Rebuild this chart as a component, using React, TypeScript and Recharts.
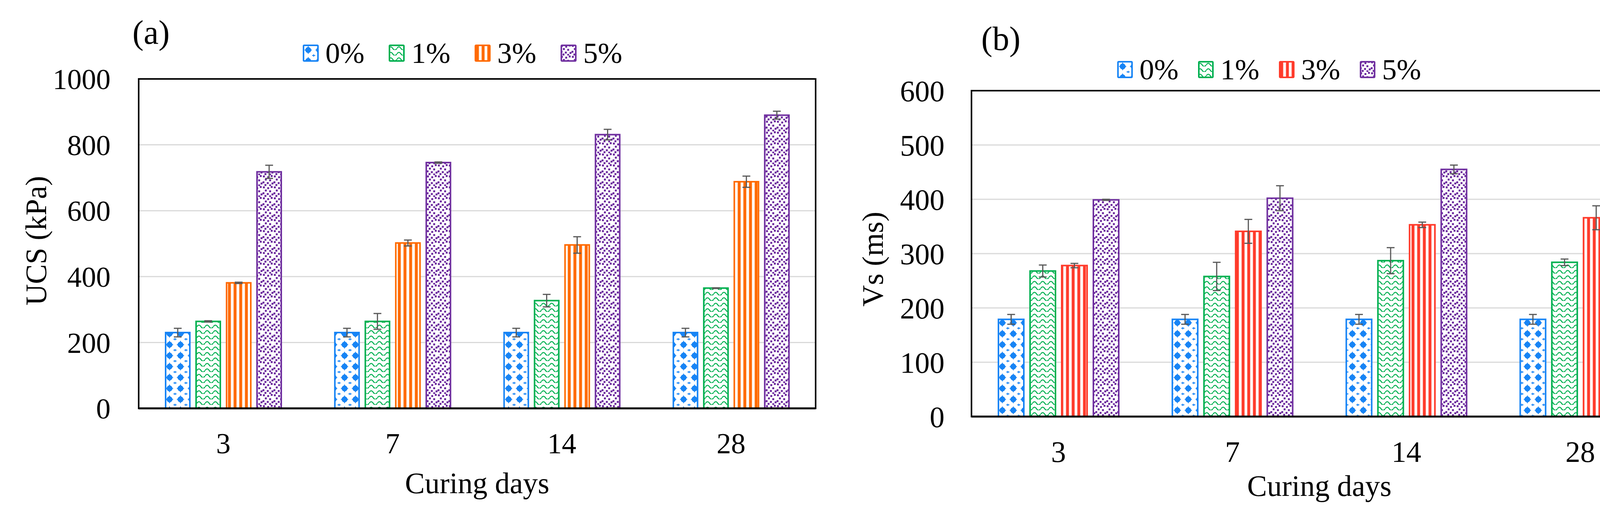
import React from "react";
import { BarChart, Bar, XAxis, YAxis, CartesianGrid, ErrorBar, ReferenceArea } from "recharts";

// Curing days (categories) and fibre contents (series)
const days = ["3", "7", "14", "28"];
const levels = ["0%", "1%", "3%", "5%"];

// (a) UCS in kPa
const ucs0 = [230, 230, 230, 230];
const ucs1 = [264, 264, 327, 365];
const ucs3 = [381, 502, 496, 688];
const ucs5 = [718, 746, 831, 890];
const ucsErr0 = [13, 13, 13, 13];
const ucsErr1 = [2, 24, 19, 1];
const ucsErr3 = [2, 9, 25, 17];
const ucsErr5 = [20, 2, 16, 12];
const ucsTicks = [0, 200, 400, 600, 800, 1000];

// (b) Vs in ms
const vs0 = [179, 179, 179, 179];
const vs1 = [268, 258, 287, 284];
const vs3 = [278, 341, 353, 366];
const vs5 = [399, 402, 455, 493];
const vsErr0 = [9, 9, 9, 9];
const vsErr1 = [11, 26, 24, 6];
const vsErr3 = [4, 22, 5, 22];
const vsErr5 = [1, 23, 8, 10];
const vsTicks = [0, 100, 200, 300, 400, 500, 600];

const FONT = '"Liberation Serif", "Times New Roman", serif';
const BLUE = "#1784F5";
const GREEN = "#00B050";
const ORANGE = "#FF6A00";
const RED = "#FF3B2B";
const PURPLE = "#7030A0";
const ERR = "#595959";

const buildRows = (vals: number[][], errs: number[][]) =>
  days.map((day, i) => ({
    day,
    v0: vals[0][i],
    v1: vals[1][i],
    v2: vals[2][i],
    v3: vals[3][i],
    e0: errs[0][i],
    e1: errs[1][i],
    e2: errs[2][i],
    e3: errs[3][i],
  }));

const rowsA = buildRows([ucs0, ucs1, ucs3, ucs5], [ucsErr0, ucsErr1, ucsErr3, ucsErr5]);
const rowsB = buildRows([vs0, vs1, vs3, vs5], [vsErr0, vsErr1, vsErr3, vsErr5]);

// hatch patterns, shared by the bars and the legend swatches
const Patterns = () => (
  <svg width={0} height={0} style={{ position: "absolute" }}>
    <defs>
      <pattern id="p-dia" width="28" height="28" patternUnits="userSpaceOnUse">
        <rect width="28" height="28" fill="#fff" />
        <path d="M14 3 Q16 10 24 14 Q16 18 14 25 Q12 18 4 14 Q12 10 14 3 Z" fill={BLUE} />
        <circle cx="14" cy="14" r="7.5" fill={BLUE} />
        <path d="M0 0 H4 M24 0 H28 M0 28 H4 M24 28 H28 M0 0 V3 M28 0 V3 M0 25 V28 M28 25 V28" stroke={BLUE} strokeWidth="2" />
      </pattern>
      <pattern id="p-wave" width="21" height="14" patternUnits="userSpaceOnUse">
        <rect width="21" height="14" fill="#fff" />
        <path d="M0 10 Q5.25 2 10.5 10 T21 10" stroke={GREEN} strokeWidth="2.5" fill="none" />
      </pattern>
      <pattern id="p-stripe-o" width="14.5" height="10" patternUnits="userSpaceOnUse">
        <rect width="14.5" height="10" fill="#fff" />
        <rect x="3.5" width="7.5" height="10" fill={ORANGE} />
      </pattern>
      <pattern id="p-stripe-r" width="14.5" height="10" patternUnits="userSpaceOnUse">
        <rect width="14.5" height="10" fill="#fff" />
        <rect x="3.5" width="7.5" height="10" fill={RED} />
      </pattern>
      <pattern id="p-dots" width="28" height="28" patternUnits="userSpaceOnUse">
        <rect width="28" height="28" fill="#fff" />
        <g fill={PURPLE}>
          <rect x="1" y="1" width="5" height="5" />
          <rect x="12" y="3" width="5" height="5" />
          <rect x="21" y="0" width="5" height="5" />
          <rect x="6" y="9" width="5" height="5" />
          <rect x="17" y="11" width="5" height="5" />
          <rect x="0" y="16" width="5" height="5" />
          <rect x="11" y="18" width="5" height="5" />
          <rect x="23" y="19" width="5" height="5" />
          <rect x="5" y="23" width="5" height="5" />
          <rect x="17" y="24" width="5" height="5" />
        </g>
      </pattern>
    </defs>
  </svg>
);

type PanelProps = {
  rows: typeof rowsA;
  left: number;
  width: number;
  margin: { top: number; right: number; left: number };
  xAxisHeight: number;
  barSize: number;
  domain: [number, number];
  ticks: number[];
  fills: string[];
  colors: string[];
  tickFont: number;
  yTickGap: number;
  xTickGap: number;
  xLabelOffset: number;
};

const Panel = (p: PanelProps) => {
  const tickStyle = { fontSize: p.tickFont, fill: "#000", fontFamily: FONT };
  return (
    <div style={{ position: "absolute", left: p.left, top: 0 }}>
      <BarChart
        width={p.width}
        height={1323}
        data={p.rows}
        margin={{ top: p.margin.top, right: p.margin.right, left: p.margin.left, bottom: 0 }}
        barSize={p.barSize}
        barGap={16}
      >
        <CartesianGrid vertical={false} stroke="#d9d9d9" strokeWidth={3} />
        <XAxis
          dataKey="day"
          height={p.xAxisHeight}
          tickLine={false}
          tickSize={0}
          tickMargin={p.xTickGap}
          axisLine={{ stroke: "#000", strokeWidth: 5 }}
          tick={tickStyle}
          label={{
            value: "Curing days",
            position: "insideBottom",
            offset: p.xLabelOffset,
            fontSize: 76,
            fill: "#000",
            fontFamily: FONT,
          }}
        />
        <YAxis
          width={120}
          domain={p.domain}
          ticks={p.ticks}
          interval={0}
          tickLine={false}
          tickSize={0}
          tickMargin={p.yTickGap}
          axisLine={{ stroke: "#000", strokeWidth: 4 }}
          tick={tickStyle}
        />
        {["v0", "v1", "v2", "v3"].map((k, i) => (
          <Bar
            key={k}
            dataKey={k}
            fill={p.fills[i]}
            stroke={p.colors[i]}
            strokeWidth={4}
            isAnimationActive={false}
          >
            <ErrorBar dataKey={`e${i}`} width={10} strokeWidth={3} stroke={ERR} direction="y" />
          </Bar>
        ))}
        {/* plot frame */}
        <ReferenceArea
          y1={p.domain[0]}
          y2={p.domain[1]}
          fill="none"
          fillOpacity={0}
          stroke="#000"
          strokeWidth={4}
          ifOverflow="visible"
        />
      </BarChart>
    </div>
  );
};

const LegendRow = (props: { left: number; top: number; step: number; swW: number; fills: string[]; colors: string[] }) => (
  <div style={{ position: "absolute", left: props.left, top: props.top, display: "flex" }}>
    {levels.map((lv, i) => (
      <div key={lv} style={{ width: props.step, display: "flex", alignItems: "center" }}>
        <svg width={props.swW} height={44} style={{ display: "block" }}>
          <rect x={2} y={2} width={props.swW - 4} height={40} fill={props.fills[i]} stroke={props.colors[i]} strokeWidth={4} rx={2} />
        </svg>
        <span style={{ fontFamily: FONT, fontSize: 75, lineHeight: 1, marginLeft: 17, color: "#000" }}>{lv}</span>
      </div>
    ))}
  </div>
);

const rotated = (text: string, cx: number, cy: number) => (
  <div
    style={{
      position: "absolute",
      left: cx,
      top: cy,
      transform: "translate(-50%, -50%) rotate(-90deg)",
      fontFamily: FONT,
      fontSize: 76,
      lineHeight: 1,
      whiteSpace: "nowrap",
      color: "#000",
    }}
  >
    {text}
  </div>
);

const tagStyle = { position: "absolute" as const, fontFamily: FONT, fontSize: 86, lineHeight: 1, color: "#000" };

export default function App() {
  const fillsA = ["url(#p-dia)", "url(#p-wave)", "url(#p-stripe-o)", "url(#p-dots)"];
  const fillsB = ["url(#p-dia)", "url(#p-wave)", "url(#p-stripe-r)", "url(#p-dots)"];
  const colorsA = [BLUE, GREEN, ORANGE, PURPLE];
  const colorsB = [BLUE, GREEN, RED, PURPLE];
  return (
    <div style={{ position: "absolute", left: 0, top: 0, width: 4321, height: 1323, background: "#fff", overflow: "hidden" }}>
      <Patterns />
      <Panel
        rows={rowsA}
        left={0}
        width={2160}
        margin={{ top: 202, right: 72, left: 235 }}
        xAxisHeight={278}
        barSize={62}
        domain={[0, 1000]}
        ticks={ucsTicks}
        fills={fillsA}
        colors={colorsA}
        tickFont={74}
        yTickGap={72}
        xTickGap={62}
        xLabelOffset={61}
      />
      <Panel
        rows={rowsB}
        left={2160}
        width={2161}
        margin={{ top: 232, right: 53, left: 207 }}
        xAxisHeight={257}
        barSize={65}
        domain={[0, 600]}
        ticks={vsTicks}
        fills={fillsB}
        colors={colorsB}
        tickFont={76}
        yTickGap={69}
        xTickGap={62}
        xLabelOffset={54}
      />
      <div style={{ ...tagStyle, left: 339, top: 40 }}>(a)</div>
      <div style={{ ...tagStyle, left: 2512, top: 56 }}>(b)</div>
      {rotated("UCS (kPa)", 92, 616)}
      {rotated("Vs (ms)", 2234, 663)}
      <LegendRow left={775} top={98} step={220} swW={41} fills={fillsA} colors={colorsA} />
      <LegendRow left={2860} top={140} step={207} swW={40} fills={fillsB} colors={colorsB} />
    </div>
  );
}
